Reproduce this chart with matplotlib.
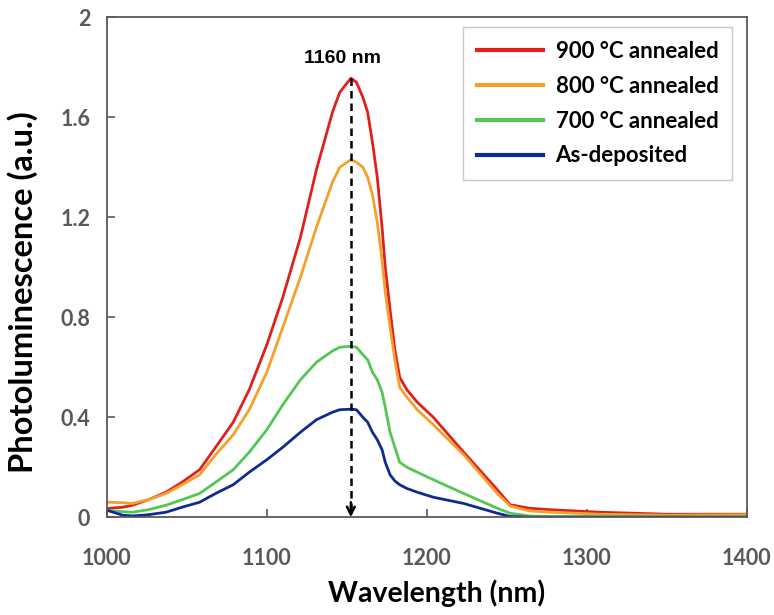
import matplotlib
matplotlib.use("Agg")
import matplotlib.pyplot as plt

wavelength = [1000, 1010, 1016, 1026, 1037, 1047, 1058, 1068, 1079, 1089, 1100, 1110,
              1121, 1131, 1141, 1145.6, 1152.5, 1156, 1160, 1163, 1166, 1169, 1172,
              1174, 1177, 1180, 1183, 1187.5, 1194, 1204, 1223, 1244, 1252,
              1264, 1277, 1308, 1350, 1400]
pl_900 = [0.035, 0.040, 0.048, 0.07, 0.10, 0.14, 0.19, 0.28, 0.38, 0.51, 0.69, 0.88,
          1.12, 1.39, 1.62, 1.70, 1.756, 1.74, 1.68, 1.62, 1.50, 1.36, 1.16,
          1.00, 0.83, 0.67, 0.56, 0.51, 0.46, 0.40, 0.26, 0.11, 0.05,
          0.036, 0.03, 0.02, 0.012, 0.012]
pl_800 = [0.06, 0.058, 0.055, 0.07, 0.095, 0.13, 0.17, 0.25, 0.33, 0.43, 0.58, 0.76,
          0.96, 1.16, 1.34, 1.40, 1.43, 1.42, 1.40, 1.36, 1.29, 1.18, 1.03,
          0.90, 0.76, 0.63, 0.52, 0.48, 0.43, 0.37, 0.25, 0.095, 0.045,
          0.025, 0.02, 0.012, 0.008, 0.010]
pl_700 = [0.028, 0.022, 0.020, 0.03, 0.048, 0.07, 0.095, 0.14, 0.19, 0.26, 0.35, 0.45,
          0.55, 0.62, 0.665, 0.68, 0.684, 0.68, 0.65, 0.63, 0.58, 0.55, 0.50,
          0.44, 0.34, 0.28, 0.22, 0.20, 0.18, 0.15, 0.095, 0.036, 0.016,
          0.005, 0.003, 0.003, 0.002, 0.002]
pl_asdep = [0.028, 0.008, 0.005, 0.01, 0.020, 0.04, 0.06, 0.095, 0.13, 0.18, 0.23, 0.28,
            0.34, 0.39, 0.42, 0.43, 0.432, 0.43, 0.40, 0.38, 0.34, 0.31, 0.27,
            0.22, 0.17, 0.145, 0.13, 0.115, 0.10, 0.08, 0.055, 0.016, 0.003,
            0.0, 0.0, 0.0, 0.0, 0.0]
labels = ["900 \u00b0C annealed", "800 \u00b0C annealed", "700 \u00b0C annealed", "As-deposited"]
colors = ["#E0201F", "#F5A02A", "#54C654", "#0F2B8F"]
peak_x = 1152.5
peak_y = 1.756
peak_label = "1160 nm"
xticks = [1000, 1100, 1200, 1300, 1400]
yticks = [0, 0.4, 0.8, 1.2, 1.6, 2]
ytick_labels = ["0", "0.4", "0.8", "1.2", "1.6", "2"]

fig = plt.figure(figsize=(7.74, 6.15), dpi=100)
ax = fig.add_axes([0.138, 0.159, 0.827, 0.813])

for ys, lab, c in zip([pl_900, pl_800, pl_700, pl_asdep], labels, colors):
    ax.plot(wavelength, ys, color=c, lw=2.0, label=lab, solid_joinstyle="round")

ax.set_xlim(1000, 1400)
ax.set_ylim(0, 2)
ax.set_xticks(xticks)
ax.set_yticks(yticks)
ax.set_yticklabels(ytick_labels)

for t in ax.get_xticklabels() + ax.get_yticklabels():
    t.set_fontfamily("Lato")
    t.set_fontweight("bold")
    t.set_fontsize(15.5)
    t.set_color("#595959")

ax.tick_params(direction="in", length=6, width=1.2, color="#595959", pad=12)
ax.tick_params(axis="x", pad=22)
for s in ax.spines.values():
    s.set_color("#595959")
    s.set_linewidth(1.3)

ax.set_xlabel("Wavelength (nm)", family="Lato", weight="bold", size=20.5)
ax.xaxis.set_label_coords(0.515, -0.125)
ax.set_ylabel("Photoluminescence (a.u.)", family="Lato", weight="bold", size=23.5)
ax.yaxis.set_label_coords(-0.108, 0.45)

# dashed marker line with arrow head
ax.plot([peak_x, peak_x], [peak_y, 0.03], color="black", lw=1.8, ls=(0, (3, 2)))
ax.annotate("", xy=(peak_x, 0.0), xytext=(peak_x, 0.06),
            arrowprops=dict(arrowstyle="->", color="black", lw=1.8,
                            mutation_scale=14, shrinkA=0, shrinkB=0))
ax.text(1147, 1.836, peak_label, ha="center", va="center",
        family="Liberation Sans", weight="bold", size=14)

leg = ax.legend(loc="upper right", bbox_to_anchor=(0.977, 0.98), frameon=True,
                fancybox=False, edgecolor="#BBBBBB", handlelength=3.0,
                handletextpad=0.55, labelspacing=0.62, borderpad=0.62,
                borderaxespad=0.0,
                prop=dict(family="Lato", weight="bold", size=16))
leg.get_frame().set_linewidth(1.0)
for h in leg.legend_handles:
    h.set_linewidth(3)

fig.savefig("out.png", dpi=100)
